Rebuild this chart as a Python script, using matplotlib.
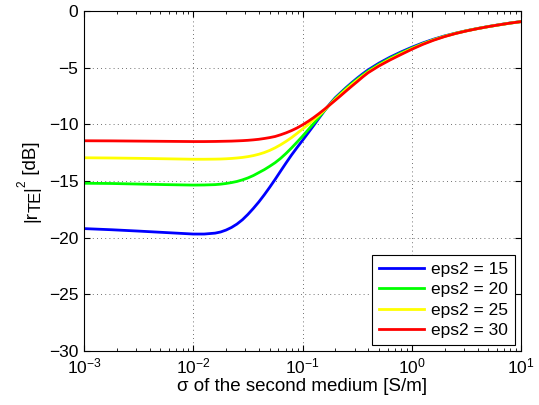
import matplotlib
matplotlib.use("Agg")
import matplotlib.pyplot as plt
import numpy as np

plt.rcParams['font.family'] = ['Liberation Sans', 'DejaVu Sans']
plt.rcParams['mathtext.fontset'] = 'custom'
plt.rcParams['mathtext.rm'] = 'Liberation Sans'
plt.rcParams['mathtext.it'] = 'Liberation Sans:italic'
plt.rcParams['mathtext.default'] = 'regular'

# log10(sigma) sample points
log_sigma = [-3, -2.75, -2.5, -2.25, -2.0, -1.9,
             -1.8, -1.75, -1.7, -1.65, -1.6, -1.55, -1.5, -1.45, -1.4, -1.35,
             -1.3, -1.25, -1.2, -1.15, -1.1, -1.05, -1.0, -0.95, -0.9, -0.85,
             -0.8, -0.75, -0.7, -0.65, -0.6, -0.55, -0.5, -0.45, -0.4,
             -0.3, -0.2, -0.1, 0, 0.1, 0.2, 0.3, 0.4, 0.5, 0.6, 0.7, 0.8, 0.9, 1.0]

r_eps15 = [-19.2, -19.3, -19.42, -19.55, -19.68, -19.68,
           -19.6, -19.5, -19.33, -19.1, -18.8, -18.42, -17.95, -17.42, -16.85, -16.22,
           -15.55, -14.85, -14.12, -13.4, -12.7, -12.05, -11.42, -10.78, -10.13, -9.47,
           -8.82, -8.2, -7.65, -7.2, -6.75, -6.33, -5.93, -5.55, -5.2,
           -4.6, -4.08, -3.62, -3.2, -2.82, -2.49, -2.2, -1.96, -1.74, -1.55, -1.37, -1.21, -1.06, -0.93]
r_eps20 = [-15.2, -15.22, -15.27, -15.32, -15.36, -15.35,
           -15.32, -15.28, -15.22, -15.14, -15.04, -14.9, -14.73, -14.52, -14.26, -14.0,
           -13.7, -13.38, -13.0, -12.56, -12.08, -11.57, -11.05, -10.5, -9.95, -9.38,
           -8.8, -8.25, -7.72, -7.27, -6.82, -6.41, -6.02, -5.65, -5.3,
           -4.7, -4.17, -3.7, -3.27, -2.88, -2.53, -2.23, -1.97, -1.75, -1.55, -1.38, -1.22, -1.07, -0.94]
r_eps25 = [-12.95, -12.97, -13.0, -13.04, -13.08, -13.08,
           -13.07, -13.06, -13.04, -13.01, -12.97, -12.92, -12.85, -12.76, -12.64, -12.49,
           -12.3, -12.07, -11.8, -11.5, -11.17, -10.8, -10.42, -10.04, -9.62, -9.2,
           -8.76, -8.26, -7.8, -7.35, -6.92, -6.51, -6.12, -5.75, -5.4,
           -4.79, -4.26, -3.78, -3.33, -2.91, -2.55, -2.24, -1.98, -1.75, -1.56, -1.38, -1.22, -1.07, -0.94]
r_eps30 = [-11.45, -11.46, -11.48, -11.5, -11.52, -11.52,
           -11.51, -11.5, -11.49, -11.48, -11.46, -11.44, -11.41, -11.37, -11.32, -11.25,
           -11.17, -11.07, -10.92, -10.75, -10.55, -10.32, -10.05, -9.75, -9.42, -9.06,
           -8.68, -8.28, -7.88, -7.47, -7.05, -6.64, -6.24, -5.83, -5.45,
           -4.85, -4.33, -3.85, -3.38, -2.95, -2.58, -2.26, -1.99, -1.76, -1.56, -1.38, -1.22, -1.07, -0.94]

labels = ['eps2 = 15', 'eps2 = 20', 'eps2 = 25', 'eps2 = 30']
colors = ['#0000ff', '#00ff00', '#ffff00', '#ff0000']

sigma = 10.0 ** np.array(log_sigma)

W, H = 539, 405
fig = plt.figure(figsize=(W / 100, H / 100), dpi=100)
ax = fig.add_axes([84 / W, 1 - 351 / H, (521 - 84) / W, (351 - 11) / H])

for vals, lab, c in zip([r_eps15, r_eps20, r_eps25, r_eps30], labels, colors):
    ax.plot(sigma, vals, color=c, lw=2, label=lab)

ax.set_xscale('log')
ax.set_xlim(1e-3, 1e1)
ax.set_ylim(-30, 0)
ax.set_yticks(np.arange(-30, 1, 5))
ax.grid(True, which='major', ls=(0, (1, 4)), color='#404040', lw=0.6)
ax.tick_params(which='both', direction='in', top=True, right=True, labelsize=12.5)
ax.tick_params(which='major', length=4, pad=4)
ax.tick_params(which='minor', length=2)
for s in ax.spines.values():
    s.set_linewidth(0.8)

ax.set_xlabel('σ of the second medium [S/m]', fontsize=13.5, labelpad=1)

# y label built piece by piece so the subscript stays near full size
renderer = fig.canvas.get_renderer()
x_base = 36 / W
y_pos = 1 - 222 / H
# (text, font size, shift across the baseline in px, gap tweak after it in px)
pieces = [('|r', 13.5, 0, -1.5), ('TE', 12, 5, 0), ('|', 13.5, 0, -0.5),
          ('2', 8.5, -11, 0), (' [dB]', 13.5, 0, 0)]
for txt, fs, dx, gap in pieces:
    t = fig.text(x_base + dx / W, y_pos, txt, rotation=90, rotation_mode='anchor',
                 ha='left', va='baseline', fontsize=fs)
    bb = t.get_window_extent(renderer)
    y_pos += (bb.height + gap) / fig.bbox.height

leg = ax.legend(loc='lower right', fontsize=12.5, fancybox=False, edgecolor='black',
                framealpha=1, borderaxespad=0.35, handlelength=2.6, labelspacing=0.3,
                borderpad=0.4, handletextpad=0.4)
leg.get_frame().set_linewidth(0.8)

fig.savefig('out.png', dpi=100)
